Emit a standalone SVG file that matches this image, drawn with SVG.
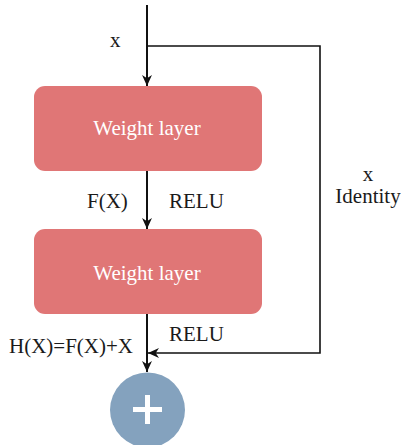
<svg xmlns="http://www.w3.org/2000/svg" width="401" height="445" viewBox="0 0 401 445">
<style>
.box{fill:#E07676;}
text{font-family:'Liberation Serif','Times New Roman',serif;font-size:21px;}
.lbl{fill:#1a1a1a;}
.wt{fill:#ffffff;text-anchor:middle;}
.ln{stroke:#111;fill:none;}
</style>
<defs>
<marker id="arr" viewBox="0 0 10 10" refX="10" refY="5" markerWidth="11" markerHeight="11" markerUnits="userSpaceOnUse" orient="auto">
<path d="M0,0.5 L10,5 L0,9.5 L3,5 Z" fill="#111"/>
</marker>
</defs>
<rect width="401" height="445" fill="#ffffff"/>
<g id="connectors">
<line class="ln" x1="147" y1="5" x2="147" y2="86" stroke-width="2" marker-end="url(#arr)"/>
<polyline class="ln" points="147,46 320,46 320,353 148,353" stroke-width="1.6" marker-end="url(#arr)"/>
<line class="ln" x1="147" y1="171" x2="147" y2="229" stroke-width="2" marker-end="url(#arr)"/>
<line class="ln" x1="147" y1="314" x2="147" y2="372" stroke-width="2" marker-end="url(#arr)"/>
</g>
<g id="labels">
<text class="lbl" x="110" y="47">x</text>
<text class="lbl" x="87" y="208">F(X)</text>
<text class="lbl" x="169" y="208">RELU</text>
<text class="lbl" x="368" y="181" text-anchor="middle">x</text>
<text class="lbl" x="368" y="203" text-anchor="middle">Identity</text>
<text class="lbl" x="169" y="341">RELU</text>
<text class="lbl" x="9" y="353">H(X)=F(X)+X</text>
</g>
<g id="weight1">
<rect class="box" x="34" y="86" width="228" height="85" rx="11"/>
<text class="wt" x="147" y="135">Weight layer</text>
</g>
<g id="weight2">
<rect class="box" x="34" y="229" width="228" height="85" rx="11"/>
<text class="wt" x="147" y="280">Weight layer</text>
</g>
<g id="sum">
<circle cx="147.5" cy="410" r="37.5" fill="#84A2BE"/>
<path d="M133,409.5 H162 M147.5,395 V424" stroke="#ffffff" stroke-width="5" fill="none"/>
</g>
</svg>
